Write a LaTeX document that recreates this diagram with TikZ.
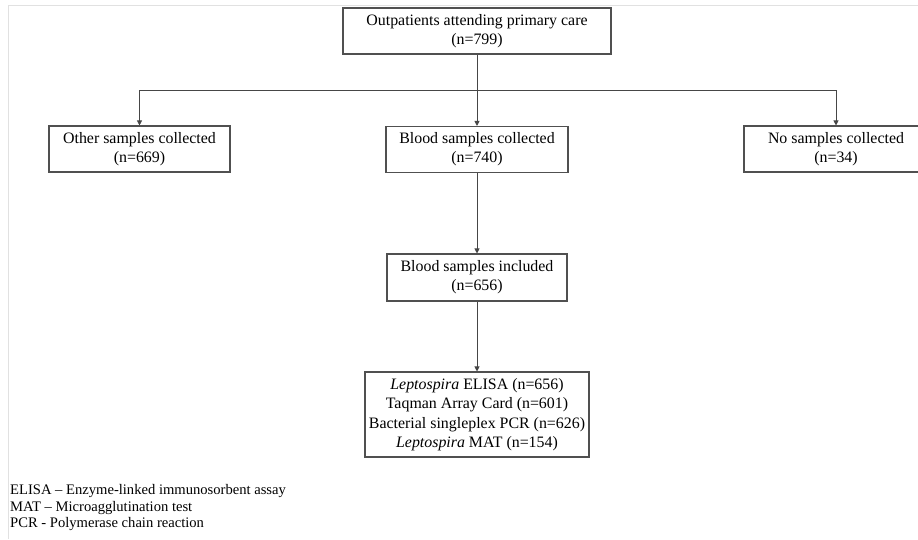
\documentclass[tikz,border=0pt]{standalone}
\usepackage{fontspec}
\setmainfont{Liberation Serif}
\usepackage{tikz}
\usetikzlibrary{arrows.meta,positioning}
\usepackage{xcolor}
\definecolor{boxgray}{RGB}{80,80,80}
\definecolor{linegray}{RGB}{70,70,70}
\definecolor{framegray}{RGB}{225,225,225}
\tikzstyle{stage} = [draw=boxgray, line width=1.1pt, align=center, minimum height=46pt, inner sep=4pt, font=\fontsize{15.9}{19}\selectfont]
\tikzstyle{link} = [line width=0.8pt, color=linegray]
\tikzstyle{arrow} = [line width=0.8pt, color=linegray, -{Triangle[length=5pt,width=5pt]}]

\begin{document}
\begin{tikzpicture}[x=1pt, y=-1pt]
\useasboundingbox (0,0) rectangle (918,539);
% faint page frame
\draw[framegray, line width=0.8pt] (918,5) -- (8,5) -- (8,539);

% Top of the flow
\node[stage, minimum width=268pt] (outpatients) at (477,31) {Outpatients attending primary care\\(n=799)};

% Three branches
\node[stage, minimum width=181pt] (other) at (139.5,149) {Other samples collected\\(n=669)};
\node[stage, minimum width=182pt] (collected) at (477,149.5) {Blood samples collected\\(n=740)};
\node[stage, minimum width=184pt] (none) at (836,149) {No samples collected\\(n=34)};

% Included and tests
\node[stage, minimum width=180pt, minimum height=47pt] (included) at (477,277.5) {Blood samples included\\(n=656)};
\node[stage, minimum width=224pt, minimum height=85pt, font=\fontsize{15.9}{19.5}\selectfont] (tests) at (477,414.5) {\textit{Leptospira} ELISA (n=656)\\Taqman Array Card (n=601)\\Bacterial singleplex PCR (n=626)\\\textit{Leptospira} MAT (n=154)};

% Arrows
\coordinate (split) at (477,90);
\draw[link] (outpatients) -- (split);
\draw[arrow] (split) -- (collected);
\draw[arrow] (split) -| (other);
\draw[arrow] (split) -| (none);
\draw[arrow] (collected) -- (included);
\draw[arrow] (included) -- (tests);

% Abbreviations
\node[anchor=north west, align=left, inner sep=0pt, font=\fontsize{14.6}{16.7}\selectfont] (legend) at (10,484) {ELISA -- Enzyme-linked immunosorbent assay\\MAT -- Microagglutination test\\PCR - Polymerase chain reaction};
\end{tikzpicture}
\end{document}
